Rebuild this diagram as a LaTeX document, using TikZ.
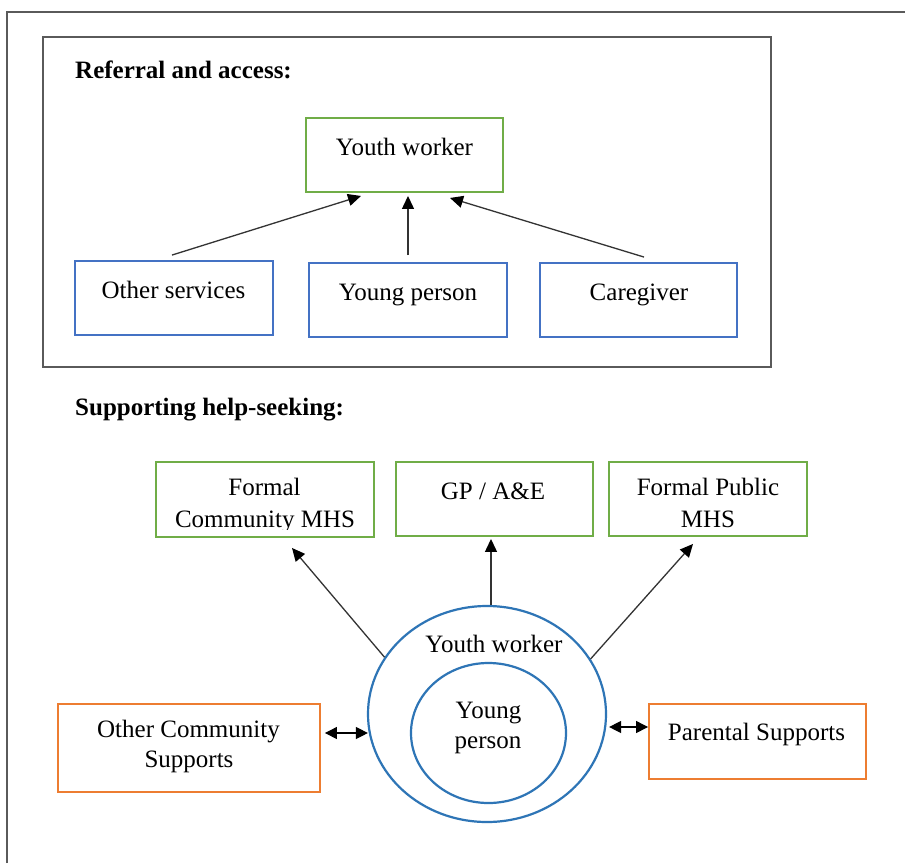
\documentclass[tikz,border=0pt]{standalone}
\usepackage{fontspec}
\setmainfont{Liberation Serif}
\usetikzlibrary{arrows.meta,shapes.geometric,calc}
\definecolor{boxgreen}{HTML}{70AD47}
\definecolor{boxblue}{HTML}{4472C4}
\definecolor{ringblue}{HTML}{2E75B6}
\definecolor{boxorange}{HTML}{ED7D31}
\definecolor{framegray}{HTML}{5A5A5A}
\definecolor{linegray}{HTML}{333333}
\begin{document}
\begin{tikzpicture}[x=1pt,y=-1pt,
  box/.style={draw, rectangle, inner sep=0pt, line width=1.9pt},
  gbox/.style={box, draw=boxgreen},
  bbox/.style={box, draw=boxblue},
  obox/.style={box, draw=boxorange},
  ring/.style={draw=ringblue, ellipse, inner sep=0pt, line width=2.2pt},
  panel/.style={draw=framegray, rectangle, inner sep=0pt, line width=1.4pt},
  txt/.style={inner sep=0pt, anchor=base, font=\fontsize{25}{30}\selectfont},
  head/.style={inner sep=0pt, anchor=base west, font=\fontsize{25}{30}\selectfont\bfseries},
  arr/.style={draw=linegray, line width=1.3pt, -{Triangle[length=13pt,width=12pt,color=black]}},
  dbl/.style={draw=black, line width=1.3pt, {Triangle[length=12pt,width=12pt]}-{Triangle[length=12pt,width=12pt]}}
]
\useasboundingbox (0,0) rectangle (905,863);
\fill[white] (0,0) rectangle (905,863);

% page frame
\draw[framegray, line width=1.8pt] (7,863) -- (7,12) -- (905,12);

% ---- Referral and access ----
\node[panel, minimum width=728pt, minimum height=330pt] (refpanel) at (407,202) {};
\node[head] (refhead) at (75,78) {Referral and access:};

\node[gbox, minimum width=197pt, minimum height=74pt] (yw) at (404.5,155) {};
\node[bbox, minimum width=198pt, minimum height=74pt] (os) at (174,298) {};
\node[bbox, minimum width=198pt, minimum height=74pt] (yp) at (408,300) {};
\node[bbox, minimum width=197pt, minimum height=74pt] (cg) at (638.5,300) {};

\node[txt] (ywtext) at (404.5,155) {Youth worker};
\node[txt] (ostext) at (173.5,298) {Other services};
\node[txt] (yptext) at (408,300) {Young person};
\node[txt] (cgtext) at (639,300) {Caregiver};

\draw[arr] ($(os.north)+(-2,-5)$) -- ($(yw.south)+(-43.5,3)$);
\draw[arr] ($(yp.north)+(0,-7)$) -- ($(yw.south)+(3.5,3)$);
\draw[arr] ($(cg.north)+(5.5,-5)$) -- ($(yw.south)+(45.5,5)$);

% ---- Supporting help-seeking ----
\node[head] (supphead) at (75,415) {Supporting help-seeking:};

\node[gbox, minimum width=218pt, minimum height=75pt] (fcm) at (265,499.5) {};
\node[gbox, minimum width=197pt, minimum height=74pt] (gp) at (494.5,499) {};
\node[gbox, minimum width=198pt, minimum height=74pt] (fpm) at (708,499) {};

\node[txt] (fcmtexta) at (264.5,495) {Formal};
\begin{scope}
  \clip (150,505) rectangle (380,529);
  \node[txt] (fcmtextb) at (265,527) {Community MHS};
\end{scope}
\node[txt] (gptext) at (493,499) {GP / A\&E};
\node[txt] (fpmtexta) at (708,495) {Formal Public};
\node[txt] (fpmtextb) at (708,527) {MHS};

\node[ring, minimum width=238pt, minimum height=216pt] (yo) at (487,714) {};
\node[ring, minimum width=155pt, minimum height=140pt] (yi) at (488.5,733) {};
\node[txt] (yotext) at (494,652) {Youth worker};
\node[txt] (yitexta) at (488.5,718) {Young};
\node[txt] (yitextb) at (488,748) {person};

\node[obox, minimum width=262pt, minimum height=88pt] (ocs) at (189,748) {};
\node[obox, minimum width=217pt, minimum height=75pt] (ps) at (757.5,741.5) {};
\node[txt] (ocstexta) at (188.5,737) {Other Community};
\node[txt] (ocstextb) at (189,767) {Supports};
\node[txt] (pstext) at (756.5,740) {Parental Supports};

\draw[arr] (yo.151) -- ($(fcm.south)+(27,10)$);
\draw[arr] ($(yo.north)+(4,0)$) -- ($(gp.south)+(-3.5,2)$);
\draw[arr] (yo.28) -- ($(fpm.south)+(-15,7)$);

\draw[dbl] ($(ocs.east)+(4,-15)$) -- ($(yo.west)+(1,19)$);
\draw[dbl] ($(yo.east)+(2,13)$) -- ($(ps.west)+(0,-14.5)$);
\end{tikzpicture}
\end{document}
